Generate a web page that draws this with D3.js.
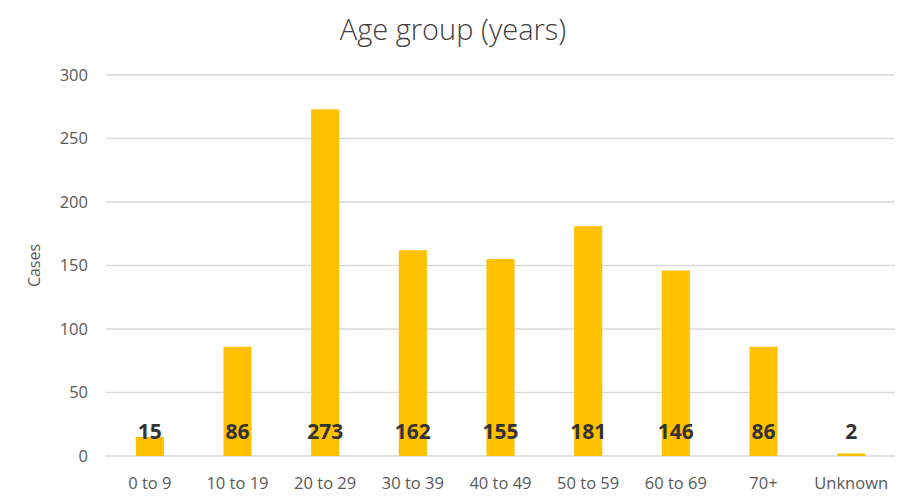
<!DOCTYPE html>
<html><head><meta charset="utf-8">
<script src="https://cdn.jsdelivr.net/npm/d3@7"></script>
<style>body{margin:0;background:#fff;}svg{display:block;}</style>
</head><body><div id="chart"></div>
<script>
const categories = ["0 to 9","10 to 19","20 to 29","30 to 39","40 to 49","50 to 59","60 to 69","70+","Unknown"];
const cases = [15,86,273,162,155,181,146,86,2];
const yTicks = [0,50,100,150,200,250,300];
const title = "Age group (years)";
const yTitle = "Cases";

const W = 912, H = 500;
const m = {left:106, right:17, top:75, bottom:44};
const svg = d3.select("#chart").append("svg").attr("width",W).attr("height",H);
const font = "'Open Sans', 'Noto Sans', sans-serif";

const x = d3.scaleBand().domain(categories).range([m.left, W-m.right]).paddingInner(0.68).paddingOuter(0.34);
const y = d3.scaleLinear().domain([0,300]).range([H-m.bottom, m.top]);

// gridlines
svg.append("g").selectAll("line").data(yTicks).join("line")
  .attr("x1", m.left).attr("x2", W-m.right)
  .attr("y1", d=>y(d)).attr("y2", d=>y(d))
  .attr("stroke", "#d9d9d9").attr("stroke-width", 1.3);

// y tick labels
svg.append("g").selectAll("text").data(yTicks).join("text")
  .attr("x", 88).attr("y", d=>y(d)).attr("dy","0.35em")
  .attr("text-anchor","end").attr("font-family",font).attr("font-size",16.5)
  .attr("fill","#595959").text(d=>d);

// bars
svg.append("g").selectAll("rect").data(cases).join("rect")
  .attr("x",(d,i)=>x(categories[i])).attr("width",x.bandwidth())
  .attr("y",d=>y(d)).attr("height",d=>y(0)-y(d))
  .attr("fill","#FFC000");

// data labels
svg.append("g").selectAll("text").data(cases).join("text")
  .attr("x",(d,i)=>x(categories[i])+x.bandwidth()/2).attr("y",439)
  .attr("text-anchor","middle").attr("font-family",font).attr("font-size",21)
  .attr("font-weight","bold").attr("fill","#333333").text(d=>d);

// x labels
svg.append("g").selectAll("text").data(categories).join("text")
  .attr("x",d=>x(d)+x.bandwidth()/2).attr("y",489)
  .attr("text-anchor","middle").attr("font-family",font).attr("font-size",16.5)
  .attr("fill","#595959").text(d=>d);

// title
svg.append("text").attr("x",453).attr("y",40).attr("text-anchor","middle")
  .attr("font-family",font).attr("font-size",29).attr("font-weight",300).attr("fill","#404040").text(title);

// y title
svg.append("text").attr("transform","translate(40,"+((y(0)+y(300))/2)+") rotate(-90)")
  .attr("text-anchor","middle").attr("font-family",font).attr("font-size",16)
  .attr("fill","#595959").text(yTitle);
</script></body></html>
